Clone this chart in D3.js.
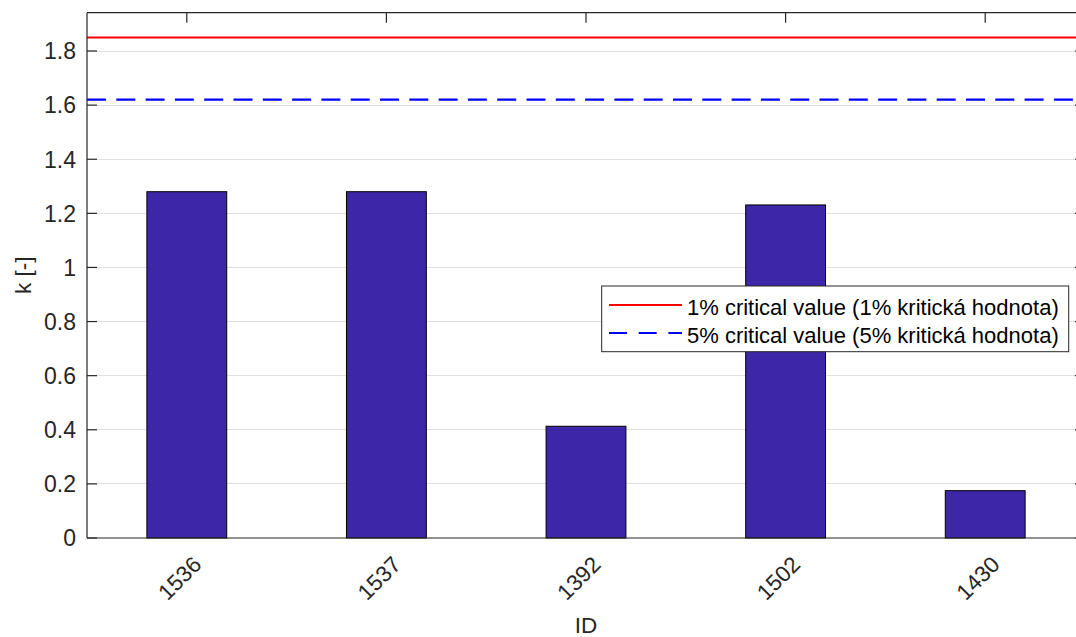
<!DOCTYPE html>
<html><head><meta charset="utf-8">
<script src="https://cdn.jsdelivr.net/npm/d3@7"></script>
<style>body{margin:0;background:#fff}svg{display:block;font-family:"Liberation Sans",Arial,Helvetica,sans-serif}</style>
</head><body><svg id="c" width="1076" height="637"></svg>
<script>
const categories = ["1536","1537","1392","1502","1430"];
const values = [1.28, 1.28, 0.413, 1.231, 0.175];
const yTicks = [0,0.2,0.4,0.6,0.8,1,1.2,1.4,1.6,1.8];
const yTickLabels = ["0","0.2","0.4","0.6","0.8","1","1.2","1.4","1.6","1.8"];
const criticalValues = [1.85, 1.62];
const legendLabels = ["1% critical value (1% kritická hodnota)","5% critical value (5% kritická hodnota)"];
const xLabel = "ID", yLabel = "k [-]";

const svg = d3.select("#c");
const L=87, R=1085, T=12.7, B=538;
const axisColor="#262626";
const x = d3.scaleBand().domain(categories).range([L,R]).paddingInner(0.6).paddingOuter(0.3);
const y = d3.scaleLinear().domain([0,1.9416]).range([B,T]);

// grid
svg.append("g").selectAll("line").data(yTicks.filter(d=>d>0)).join("line")
  .attr("x1",L).attr("x2",R).attr("y1",d=>y(d)).attr("y2",d=>y(d))
  .attr("stroke","#dfdfdf").attr("stroke-width",1).attr("shape-rendering","crispEdges");

// bottom ticks (under bars)
svg.append("g").selectAll("line").data(categories).join("line")
  .attr("x1",d=>x(d)+x.bandwidth()/2).attr("x2",d=>x(d)+x.bandwidth()/2)
  .attr("y1",B).attr("y2",B-10).attr("stroke",axisColor);

// bars
svg.append("g").selectAll("rect").data(values).join("rect")
  .attr("x",(d,i)=>x(categories[i])).attr("width",x.bandwidth())
  .attr("y",d=>y(d)).attr("height",d=>B-y(d))
  .attr("fill","#3e26a8").attr("stroke","#000").attr("stroke-width",1);

// critical lines
const lineColors=["#ff0000","#0000ff"], dashes=[null,"19,10.3"];
svg.append("g").selectAll("line").data(criticalValues).join("line")
  .attr("x1",L).attr("x2",R).attr("y1",d=>y(d)).attr("y2",d=>y(d))
  .attr("stroke",(d,i)=>lineColors[i]).attr("stroke-width",2.2)
  .attr("stroke-dasharray",(d,i)=>dashes[i]);

// axes box
const box = svg.append("g").attr("stroke",axisColor).attr("stroke-width",1.2).attr("fill","none");
box.append("line").attr("x1",L).attr("x2",L).attr("y1",T).attr("y2",B);
box.append("line").attr("x1",L).attr("x2",R).attr("y1",B).attr("y2",B);
box.append("line").attr("x1",L).attr("x2",R).attr("y1",T).attr("y2",T);
box.append("line").attr("x1",R).attr("x2",R).attr("y1",T).attr("y2",B);
// y ticks
box.selectAll(".yl").data(yTicks).join("line").attr("x1",L).attr("x2",L+10).attr("y1",d=>y(d)).attr("y2",d=>y(d));
box.selectAll(".yr").data(yTicks).join("line").attr("x1",R).attr("x2",R-10).attr("y1",d=>y(d)).attr("y2",d=>y(d));
// top x ticks
box.selectAll(".xt").data(categories).join("line")
  .attr("x1",d=>x(d)+x.bandwidth()/2).attr("x2",d=>x(d)+x.bandwidth()/2).attr("y1",T).attr("y2",T+10);

// y tick labels
svg.append("g").selectAll("text").data(yTicks).join("text")
  .attr("x",76).attr("y",d=>y(d)).attr("dy","0.36em").attr("text-anchor","end")
  .attr("font-size",23).attr("fill",axisColor).text((d,i)=>yTickLabels[i]);

// x tick labels
svg.append("g").selectAll("text").data(categories).join("text")
  .attr("transform",d=>`translate(${x(d)+x.bandwidth()/2+16},566) rotate(-45)`)
  .attr("text-anchor","end").attr("font-size",22.5).attr("fill",axisColor).text(d=>d);

// axis labels
svg.append("text").attr("x",(L+R)/2).attr("y",633).attr("text-anchor","middle")
  .attr("font-size",22.5).attr("fill",axisColor).text(xLabel);
svg.append("text").attr("transform",`translate(31,${(T+B)/2}) rotate(-90)`).attr("text-anchor","middle")
  .attr("font-size",22.5).attr("fill",axisColor).text(yLabel);

// legend
const lg = svg.append("g");
lg.append("rect").attr("x",601.7).attr("y",286).attr("width",467).attr("height",65.7)
  .attr("fill","#fff").attr("stroke",axisColor).attr("stroke-width",1);
const rowsY=[305,333];
legendLabels.forEach((t,i)=>{
  lg.append("line").attr("x1",609).attr("x2",682).attr("y1",rowsY[i]).attr("y2",rowsY[i])
    .attr("stroke",lineColors[i]).attr("stroke-width",2.2).attr("stroke-dasharray",dashes[i]==null?null:"18,11.7");
  lg.append("text").attr("x",687).attr("y",rowsY[i]+10).attr("font-size",22).attr("fill","#000").text(t);
});
</script></body></html>
